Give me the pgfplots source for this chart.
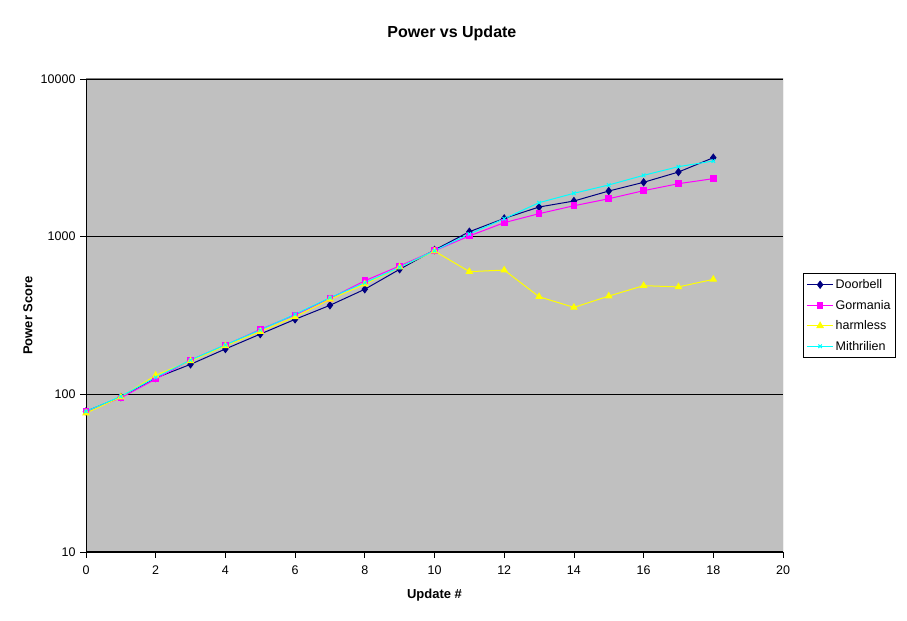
\documentclass[border=0pt]{standalone}
\usepackage{pgfplots}
\pgfplotsset{compat=1.18}
\usepackage{pgfplotstable}
\usepackage{fontspec}
\setmainfont{Liberation Sans}
\definecolor{bggray}{RGB}{192,192,192}
\definecolor{framegray}{RGB}{128,128,128}
\definecolor{navyc}{RGB}{0,0,128}
\definecolor{magc}{RGB}{255,0,255}
\definecolor{yelc}{RGB}{255,255,0}
\definecolor{cyac}{RGB}{0,255,255}
\pgfplotstableread{
x y
0 78
1 96
2 127
3 155
4 194
5 241
6 299
7 367
8 464
9 621
10 823
11 1075
12 1305
13 1542
14 1683
15 1948
16 2212
17 2570
18 3168
}\doorbell
\pgfplotstableread{
x y
0 78
1 95
2 125
3 165
4 205
5 258
6 319
7 406
8 525
9 652
10 815
11 1010
12 1227
13 1399
14 1571
15 1740
16 1958
17 2168
18 2333
}\gormania
\pgfplotstableread{
x y
0 76
1 96
2 132
3 163
4 203
5 250
6 310
7 400
8 500
9 640
10 810
11 600
12 614
13 416
14 356
15 420
16 489
17 480
18 536
}\harmless
\pgfplotstableread{
x y
0 78
1 97
2 128
3 165
4 206
5 256
6 322
7 410
8 510
9 640
10 815
11 1040
12 1300
13 1643
14 1884
15 2127
16 2449
17 2779
18 3020
}\mithrilien
\begin{document}
\begin{tikzpicture}[x=1bp,y=1bp]
\useasboundingbox (-86bp,-69bp) rectangle (821bp,552bp);
\begin{axis}[
  at={(0,0)}, anchor=south west,
  scale only axis, width=697bp, height=473bp,
  ymode=log, ymin=10, ymax=10000,
  xmin=0, xmax=20,
  xtick={0,2,...,20},
  ytick={10,100,1000,10000},
  yticklabels={10,100,1000,10000},
  yminorticks=false, minor tick num=0,
  tick align=outside, major tick length=6bp,
  tick style={black, line width=0.8bp},
  axis lines*=left,
  axis line style={black, line width=1bp, -},
  ymajorgrids, major grid style={black, line width=0.9bp},
  axis background/.style={fill=bggray},
  ticklabel style={font=\fontsize{12.5bp}{14bp}\selectfont},
  /pgf/number format/assume math mode=true,
  xticklabel style={yshift=-4bp},
  yticklabel style={xshift=-1bp},
  title={Power vs Update},
  title style={font=\fontsize{16bp}{18bp}\selectfont\bfseries, at={(0.525,1)}, anchor=center, yshift=40bp},
  xlabel={Update \#},
  xlabel style={font=\fontsize{13bp}{15bp}\selectfont\bfseries, at={(0.5,0)}, anchor=center, yshift=-43bp},
  ylabel={Power Score},
  ylabel style={font=\fontsize{13bp}{15bp}\selectfont\bfseries, at={(0,0.5)}, anchor=center, yshift=58bp},
  legend style={at={(1.029,0.5)}, anchor=west, draw=black, fill=white, line width=0.8bp,
    font=\fontsize{12.5bp}{14bp}\selectfont, row sep=6bp, inner xsep=3bp, inner ysep=4bp},
  legend cell align=left,
  legend image code/.code={\draw[mark repeat=2,mark phase=2,#1] plot coordinates {(0bp,0bp) (13bp,0bp) (26bp,0bp)};},
  every axis plot/.append style={line width=1bp},
]
\addplot[color=navyc, mark=diamond*, mark size=3.5bp, mark options={solid}] table {\doorbell};
\addlegendentry{Doorbell}
\addplot[color=magc, mark=square*, mark size=2.8bp] table {\gormania};
\addlegendentry{Gormania}
\addplot[color=yelc, mark=triangle*, mark size=3.5bp] table {\harmless};
\addlegendentry{harmless}
\addplot[color=cyac, mark=x, mark size=2.5bp] table {\mithrilien};
\addlegendentry{Mithrilien}
\draw[framegray, line width=1bp] (rel axis cs:0,1) -- (rel axis cs:1,1) -- (rel axis cs:1,0);
\end{axis}
\end{tikzpicture}
\end{document}
